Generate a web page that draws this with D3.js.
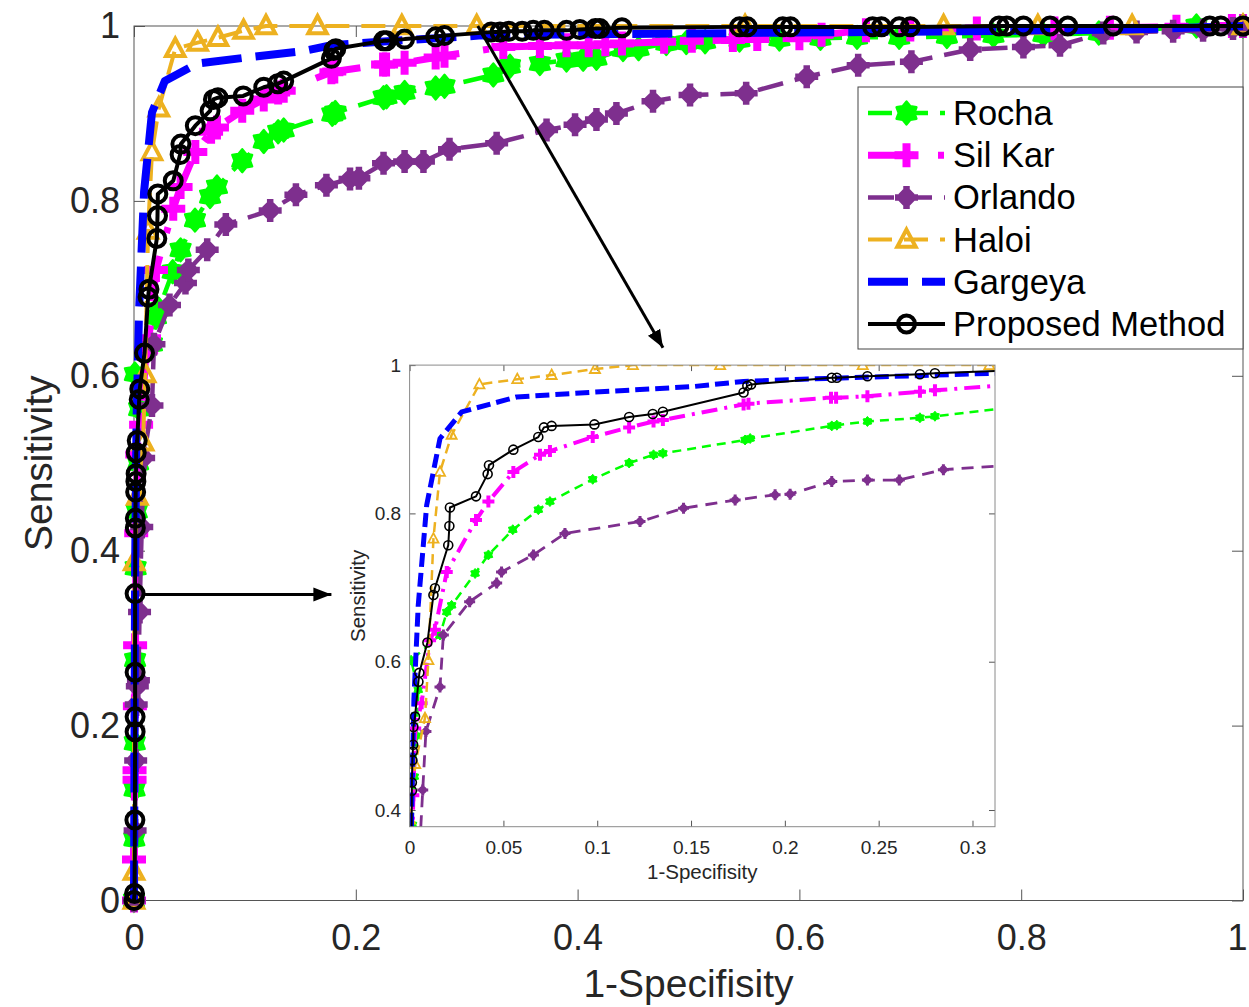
<!DOCTYPE html>
<html>
<head>
<meta charset="utf-8">
<script src="https://cdn.jsdelivr.net/npm/d3@7"></script>
<style>
  html, body { margin: 0; padding: 0; background: #fff; }
  svg { display: block; }
  text { font-family: "Liberation Sans", Arial, Helvetica, sans-serif; }
</style>
</head>
<body>
<svg id="chart" width="1249" height="1007"></svg>
<script>
// ---- ROC data (false positive rate = 1-Specificity, true positive rate = Sensitivity) ----
const seriesNames = ["Rocha", "Sil Kar", "Orlando", "Haloi", "Gargeya", "Proposed Method"];

const rochaFpr = [0, 0.0003, 0.0005, 0.0007, 0.001, 0.0015, 0.0025, 0.0037, 0.0046, 0.0008, 0.0162, 0.0198, 0.0224, 0.0349, 0.042, 0.055, 0.0686, 0.0748, 0.0976, 0.117, 0.130, 0.135, 0.1788, 0.1815, 0.225, 0.2277, 0.244, 0.272, 0.28, 0.324, 0.339, 0.366, 0.39, 0.405, 0.417, 0.441, 0.455, 0.48, 0.498, 0.515, 0.546, 0.582, 0.619, 0.652, 0.69, 0.733, 0.775, 0.82, 0.87, 0.958, 1];
const rochaTpr = [0, 0.07, 0.127, 0.18, 0.275, 0.38, 0.445, 0.50, 0.562, 0.602, 0.636, 0.667, 0.676, 0.719, 0.744, 0.778, 0.805, 0.816, 0.846, 0.868, 0.879, 0.881, 0.899, 0.901, 0.918, 0.919, 0.924, 0.929, 0.931, 0.944, 0.954, 0.957, 0.961, 0.962, 0.963, 0.973, 0.974, 0.98, 0.981, 0.982, 0.984, 0.985, 0.986, 0.987, 0.987, 0.988, 0.989, 0.99, 0.992, 1.0, 1.0];

const silKarFpr = [0, 0, 0.0005, 0.0005, 0.0008, 0.001, 0.002, 0.003, 0.0064, 0.0109, 0.0135, 0.0198, 0.0354, 0.042, 0.0553, 0.0695, 0.0748, 0.0976, 0.117, 0.130, 0.135, 0.178, 0.1806, 0.2246, 0.2273, 0.244, 0.272, 0.28, 0.333, 0.366, 0.39, 0.41, 0.425, 0.44, 0.478, 0.503, 0.54, 0.562, 0.6, 0.62, 0.66, 0.7, 0.76, 0.83, 0.88, 0.94, 0.99, 1];
const silKarTpr = [0, 0.047, 0.138, 0.149, 0.222, 0.292, 0.42, 0.51, 0.544, 0.629, 0.643, 0.721, 0.791, 0.816, 0.856, 0.879, 0.884, 0.903, 0.916, 0.924, 0.926, 0.947, 0.948, 0.956, 0.956, 0.958, 0.964, 0.966, 0.976, 0.977, 0.978, 0.978, 0.979, 0.98, 0.982, 0.983, 0.984, 0.985, 0.986, 0.99, 0.995, 0.996, 0.997, 0.997, 0.998, 0.999, 1, 1];

const orlandoFpr = [0, 0.001, 0.0015, 0.002, 0.003, 0.004, 0.005, 0.007, 0.0087, 0.0162, 0.018, 0.032, 0.0464, 0.049, 0.066, 0.0828, 0.1228, 0.146, 0.1735, 0.1948, 0.2028, 0.225, 0.244, 0.261, 0.2845, 0.327, 0.372, 0.3977, 0.417, 0.435, 0.468, 0.5014, 0.552, 0.6066, 0.653, 0.701, 0.754, 0.802, 0.835, 0.874, 0.904, 0.937, 0.964, 0.991, 1];
const orlandoTpr = [0, 0.08, 0.16, 0.224, 0.245, 0.252, 0.33, 0.427, 0.506, 0.566, 0.636, 0.681, 0.706, 0.721, 0.744, 0.773, 0.789, 0.807, 0.818, 0.825, 0.826, 0.843, 0.845, 0.845, 0.859, 0.866, 0.881, 0.887, 0.893, 0.9, 0.914, 0.921, 0.923, 0.942, 0.955, 0.959, 0.973, 0.976, 0.978, 0.992, 0.993, 0.994, 0.995, 0.997, 1];

const haloiFpr = [0, 0, 0.0002, 0.003, 0.0082, 0.01, 0.0127, 0.0162, 0.0224, 0.0372, 0.0574, 0.0757, 0.0988, 0.119, 0.1655, 0.2415, 0.309, 0.551, 0.73, 0.815, 0.9, 1];
const haloiTpr = [0, 0.033, 0.387, 0.462, 0.524, 0.602, 0.766, 0.856, 0.906, 0.974, 0.981, 0.9866, 0.9947, 1, 1, 1, 1, 1, 1, 1, 1, 1];

const gargeyaFpr = [0, 0.001, 0.0023, 0.0046, 0.0091, 0.0162, 0.0278, 0.057, 0.1015, 0.151, 0.178, 0.222, 0.311, 0.35, 0.55, 0.75, 0.9, 1];
const gargeyaTpr = [0, 0.38, 0.55, 0.676, 0.811, 0.901, 0.937, 0.957, 0.964, 0.971, 0.978, 0.982, 0.989, 0.99, 0.992, 0.994, 0.996, 1];

const proposedFpr = [0, 0.0005, 0.0008, 0.001, 0.001, 0.001, 0.001, 0.0012, 0.0012, 0.0015, 0.0017, 0.0019, 0.002, 0.0029, 0.0047, 0.0052, 0.0095, 0.0127, 0.0135, 0.0206, 0.0212, 0.0215, 0.0354, 0.0416, 0.0423, 0.0553, 0.0686, 0.0716, 0.0757, 0.0985, 0.117, 0.1296, 0.135, 0.178, 0.180, 0.182, 0.225, 0.2277, 0.244, 0.272, 0.280, 0.322, 0.33, 0.338, 0.35, 0.36, 0.37, 0.39, 0.402, 0.416, 0.42, 0.44, 0.546, 0.553, 0.585, 0.592, 0.666, 0.674, 0.69, 0.7, 0.78, 0.787, 0.802, 0.826, 0.842, 0.883, 0.97, 0.98, 1];
const proposedTpr = [0, 0.008, 0.092, 0.193, 0.21, 0.261, 0.351, 0.426, 0.437, 0.467, 0.479, 0.488, 0.512, 0.526, 0.573, 0.585, 0.626, 0.690, 0.699, 0.757, 0.783, 0.808, 0.823, 0.853, 0.865, 0.886, 0.903, 0.916, 0.918, 0.920, 0.930, 0.934, 0.937, 0.963, 0.972, 0.974, 0.983, 0.983, 0.985, 0.9876, 0.989, 0.993, 0.993, 0.994, 0.994, 0.995, 0.995, 0.995, 0.996, 0.997, 0.997, 0.998, 0.999, 0.999, 0.999, 0.999, 0.999, 0.999, 0.999, 0.999, 1, 1, 1, 1, 1, 1, 1, 1, 1];

const mainTicks = [0, 0.2, 0.4, 0.6, 0.8, 1];
const mainTickLabels = ["0", "0.2", "0.4", "0.6", "0.8", "1"];
const insetXTicks = [0, 0.05, 0.1, 0.15, 0.2, 0.25, 0.3];
const insetXTickLabels = ["0", "0.05", "0.1", "0.15", "0.2", "0.25", "0.3"];
const insetYTicks = [0.4, 0.6, 0.8, 1];
const insetYTickLabels = ["0.4", "0.6", "0.8", "1"];

// arrows (main-axes data coordinates): zoom pointer and level pointer
const arrowTop = [[0.310, 1.0], [0.477, 0.632]];
const arrowSide = [[0.0095, 0.35], [0.178, 0.35]];

// ---- styles ----
const styles = [
  { color: "#00ff00", marker: "hexagram", main: { w: 4.5, dash: "24,12", m: 11.5 }, inset: { w: 2.5, dash: "9,6", m: 5 } },
  { color: "#ff00ff", marker: "plus", main: { w: 7, dash: "46,24,6,24", m: 12, mw: 8 }, inset: { w: 4, dash: "16,7,3,7", m: 6, mw: 4 } },
  { color: "#7e2f8e", marker: "asterisk", main: { w: 4.5, dash: "26,12", m: 11.5, mw: 6.5 }, inset: { w: 2.8, dash: "12,8", m: 5.5, mw: 3 } },
  { color: "#edb120", marker: "triangle", main: { w: 4, dash: "24,12", m: 10, mw: 4 }, inset: { w: 2.5, dash: "10,6", m: 5.5, mw: 1.8 } },
  { color: "#0000ff", marker: null, main: { w: 8, dash: "40,14", m: 0 }, inset: { w: 5, dash: "14,6", m: 0 } },
  { color: "#000000", marker: "circle", main: { w: 4, dash: null, m: 8.5, mw: 4 }, inset: { w: 2, dash: null, m: 4.5, mw: 1.6 } }
];

const fprs = [rochaFpr, silKarFpr, orlandoFpr, haloiFpr, gargeyaFpr, proposedFpr];
const tprs = [rochaTpr, silKarTpr, orlandoTpr, haloiTpr, gargeyaTpr, proposedTpr];
const series = seriesNames.map((name, i) => ({
  name, style: styles[i],
  points: fprs[i].map((f, j) => [f, tprs[i][j]])
}));

const svg = d3.select("#chart");
const textColor = "#262626";
const fontFam = '"Liberation Sans", Arial, Helvetica, sans-serif';

// ---- marker shapes ----
function markerPath(type, s) {
  if (type === "hexagram") {
    const r = s * 0.68;
    const pts = d3.range(12).map(k => {
      const a = (-90 + k * 30) * Math.PI / 180;
      const rad = k % 2 ? r : s;
      return [rad * Math.cos(a), rad * Math.sin(a)];
    });
    return "M" + pts.map(p => p.join(",")).join("L") + "Z";
  }
  if (type === "plus") return `M${-s},0H${s}M0,${-s}V${s}`;
  if (type === "asterisk") {
    const d = s * 0.5;
    return `M${-s},0H${s}M0,${-s}V${s}M${-d},${-d}L${d},${d}M${-d},${d}L${d},${-d}`;
  }
  if (type === "triangle") return `M0,${-s}L${s * 0.92},${s * 0.72}L${-s * 0.92},${s * 0.72}Z`;
  return "";
}

function drawMarker(g, type, cx, cy, color, spec) {
  if (!type) return;
  if (type === "circle") {
    g.append("circle").attr("cx", cx).attr("cy", cy).attr("r", spec.m)
      .attr("fill", "none").attr("stroke", color).attr("stroke-width", spec.mw);
  } else if (type === "hexagram") {
    g.append("path").attr("transform", `translate(${cx},${cy})`).attr("d", markerPath(type, spec.m))
      .attr("fill", color).attr("stroke", color).attr("stroke-width", spec.m * 0.2).attr("stroke-linejoin", "round");
  } else if (type === "triangle") {
    g.append("path").attr("transform", `translate(${cx},${cy})`).attr("d", markerPath(type, spec.m))
      .attr("fill", "none").attr("stroke", color).attr("stroke-width", spec.mw).attr("stroke-linejoin", "miter");
  } else {
    g.append("path").attr("transform", `translate(${cx},${cy})`).attr("d", markerPath(type, spec.m))
      .attr("fill", "none").attr("stroke", color).attr("stroke-width", spec.mw).attr("stroke-linecap", "butt");
  }
}

function drawSeries(g, s, x, y, spec) {
  const line = d3.line().x(d => x(d[0])).y(d => y(d[1]));
  g.append("path").datum(s.points).attr("d", line)
    .attr("fill", "none").attr("stroke", s.style.color).attr("stroke-width", spec.w)
    .attr("stroke-dasharray", spec.dash).attr("stroke-linejoin", "round");
  const mg = g.append("g");
  s.points.forEach(p => drawMarker(mg, s.style.marker, x(p[0]), y(p[1]), s.style.color, spec));
}

// ---- main axes ----
const M = { left: 134, right: 1243, top: 26, bottom: 900.5 };
const x = d3.scaleLinear().domain([0, 1]).range([M.left, M.right]);
const y = d3.scaleLinear().domain([0, 1]).range([M.bottom, M.top]);

svg.append("rect").attr("x", M.left).attr("y", M.top).attr("width", M.right - M.left).attr("height", M.bottom - M.top)
  .attr("fill", "#fff");

function styleAxis(g, size) {
  g.select(".domain").remove();
  g.selectAll(".tick line").attr("stroke", "#555").attr("stroke-width", 1);
  g.selectAll(".tick text").attr("fill", textColor).style("font-size", size + "px").style("font-family", fontFam);
}

const tickFmt = (labels, ticks) => (d => labels[ticks.indexOf(d)]);

svg.append("g").attr("transform", `translate(0,${M.bottom})`)
  .call(d3.axisBottom(x).tickValues(mainTicks).tickFormat(tickFmt(mainTickLabels, mainTicks)).tickSize(-11).tickPadding(24))
  .call(g => styleAxis(g, 36))
  // keep the last label inside the page edge
  .call(g => g.selectAll(".tick text").filter(d => d === 1).attr("dx", "-6"));
svg.append("g").attr("transform", `translate(${M.left},0)`)
  .call(d3.axisLeft(y).tickValues(mainTicks).tickFormat(tickFmt(mainTickLabels, mainTicks)).tickSize(-11).tickPadding(14))
  .call(g => styleAxis(g, 36));
svg.append("g").attr("transform", `translate(0,${M.top})`)
  .call(d3.axisTop(x).tickValues(mainTicks).tickFormat("").tickSize(-11))
  .call(g => styleAxis(g, 36));
svg.append("g").attr("transform", `translate(${M.right},0)`)
  .call(d3.axisRight(y).tickValues(mainTicks).tickFormat("").tickSize(-11))
  .call(g => styleAxis(g, 36));

svg.append("rect").attr("x", M.left).attr("y", M.top).attr("width", M.right - M.left).attr("height", M.bottom - M.top)
  .attr("fill", "none").attr("stroke", "#555").attr("stroke-width", 1);

svg.append("text").attr("x", (M.left + M.right) / 2).attr("y", 997).attr("text-anchor", "middle")
  .attr("fill", textColor).style("font-size", "39px").text("1-Specifisity");
svg.append("text").attr("transform", `translate(52,${(M.top + M.bottom) / 2}) rotate(-90)`).attr("text-anchor", "middle")
  .attr("fill", textColor).style("font-size", "39px").text("Sensitivity");

const mainG = svg.append("g");
series.forEach(s => drawSeries(mainG, s, x, y, s.style.main));

// ---- legend ----
const L = { x: 858, y: 87, w: 385, h: 262, row0: 113, step: 42.2, lx0: 868, lx1: 945, tx: 953 };
const leg = svg.append("g");
leg.append("rect").attr("x", L.x).attr("y", L.y).attr("width", L.w).attr("height", L.h)
  .attr("fill", "#fff").attr("stroke", "#444").attr("stroke-width", 1);
series.forEach((s, i) => {
  const cy = L.row0 + i * L.step;
  const spec = s.style.main;
  leg.append("line").attr("x1", L.lx0).attr("x2", L.lx1).attr("y1", cy).attr("y2", cy)
    .attr("stroke", s.style.color).attr("stroke-width", spec.w).attr("stroke-dasharray", spec.dash);
  drawMarker(leg, s.style.marker, (L.lx0 + L.lx1) / 2, cy, s.style.color, spec);
  leg.append("text").attr("x", L.tx).attr("y", cy).attr("dy", "0.35em").attr("fill", "#000")
    .style("font-size", "34.5px").text(s.name);
});

// ---- arrows ----
const defs = svg.append("defs");
defs.append("marker").attr("id", "arrowHead").attr("markerUnits", "userSpaceOnUse")
  .attr("markerWidth", 20).attr("markerHeight", 16).attr("refX", 18).attr("refY", 8).attr("orient", "auto")
  .append("path").attr("d", "M0,1L18,8L0,15Z").attr("fill", "#000");
[arrowTop, arrowSide].forEach(a => {
  svg.append("line").attr("x1", x(a[0][0])).attr("y1", y(a[0][1])).attr("x2", x(a[1][0])).attr("y2", y(a[1][1]))
    .attr("stroke", "#000").attr("stroke-width", 3).attr("marker-end", "url(#arrowHead)");
});

// ---- inset (zoomed view of the upper-left corner) ----
const I = { left: 409.6, right: 995, top: 365.1, bottom: 826.7 };
const xi = d3.scaleLinear().domain([0, 0.312]).range([I.left, I.right]);
const yi = d3.scaleLinear().domain([0.3775, 1]).range([I.bottom, I.top]);

const inset = svg.append("g");
inset.append("rect").attr("x", I.left).attr("y", I.top).attr("width", I.right - I.left).attr("height", I.bottom - I.top)
  .attr("fill", "#fff");
defs.append("clipPath").attr("id", "insetClip").append("rect")
  .attr("x", I.left).attr("y", I.top).attr("width", I.right - I.left).attr("height", I.bottom - I.top);

inset.append("g").attr("transform", `translate(0,${I.bottom})`)
  .call(d3.axisBottom(xi).tickValues(insetXTicks).tickFormat(tickFmt(insetXTickLabels, insetXTicks)).tickSize(-6).tickPadding(13.5))
  .call(g => styleAxis(g, 19));
inset.append("g").attr("transform", `translate(${I.left},0)`)
  .call(d3.axisLeft(yi).tickValues(insetYTicks).tickFormat(tickFmt(insetYTickLabels, insetYTicks)).tickSize(-6).tickPadding(8.5))
  .call(g => styleAxis(g, 19));
inset.append("g").attr("transform", `translate(0,${I.top})`)
  .call(d3.axisTop(xi).tickValues(insetXTicks).tickFormat("").tickSize(-6))
  .call(g => styleAxis(g, 19));
inset.append("g").attr("transform", `translate(${I.right},0)`)
  .call(d3.axisRight(yi).tickValues(insetYTicks).tickFormat("").tickSize(-6))
  .call(g => styleAxis(g, 19));

const insetPlot = inset.append("g").attr("clip-path", "url(#insetClip)");
series.forEach(s => drawSeries(insetPlot, s, xi, yi, s.style.inset));

inset.append("rect").attr("x", I.left).attr("y", I.top).attr("width", I.right - I.left).attr("height", I.bottom - I.top)
  .attr("fill", "none").attr("stroke", "#8a8a8a").attr("stroke-width", 1);

inset.append("text").attr("x", (I.left + I.right) / 2).attr("y", 879).attr("text-anchor", "middle")
  .attr("fill", textColor).style("font-size", "20.5px").text("1-Specifisity");
inset.append("text").attr("transform", `translate(365,${(I.top + I.bottom) / 2}) rotate(-90)`).attr("text-anchor", "middle")
  .attr("fill", textColor).style("font-size", "20.5px").text("Sensitivity");
</script>
</body>
</html>
